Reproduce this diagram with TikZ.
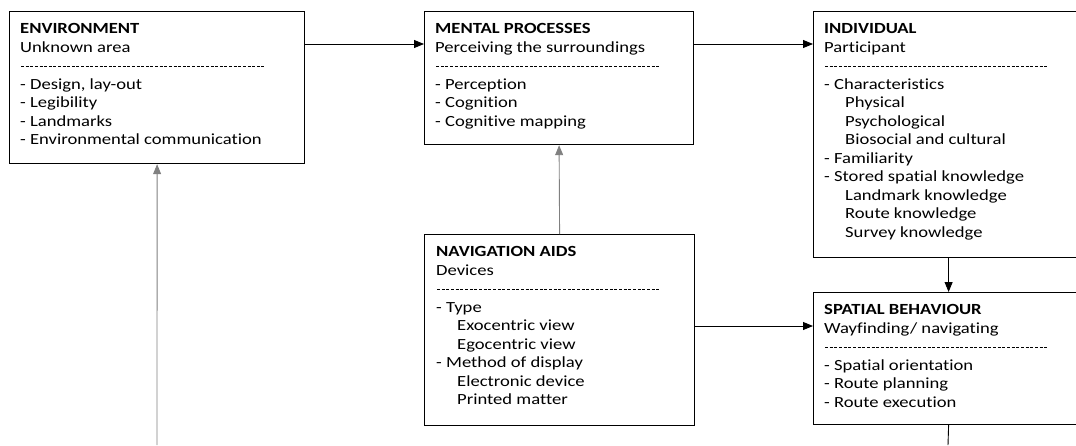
\documentclass[tikz,border=0pt]{standalone}
\usepackage{fontspec}
\setmainfont{Carlito}[FakeStretch=1.2, Ligatures=NoCommon]
\usetikzlibrary{arrows.meta}

% a row of hyphens used as the separator under each heading
\newcommand\dashrow[1]{\leavevmode\hbox to #1{\xleaders\hbox to 4.6pt{\hss\rule[4pt]{3pt}{0.7pt}\hss}\hfill}}
\newcommand\indentitem{\hspace*{21pt}}

\tikzset{
  panel/.style={draw=black, line width=1.2pt, fill=white, inner sep=0pt, anchor=north west},
  body/.style={anchor=base west, inner sep=0pt, text=black,
               font=\fontsize{15.5}{18.5}\selectfont},
  link/.style={line width=0.9pt, -{Triangle[length=10pt,width=8pt]}},
  faint/.style={link, draw=black!50},
}

\begin{document}
\begin{tikzpicture}[x=1pt,y=-1pt]
\useasboundingbox (0,0) rectangle (1076,445);
\begin{scope}
\clip (0,0) rectangle (1076,445);

% panels
\node[panel, minimum width=295pt, minimum height=152pt] (env)     at (9,11)   {};
\node[panel, minimum width=269pt, minimum height=133pt] (mental)  at (424,11) {};
\node[panel, minimum width=270pt, minimum height=246pt] (indiv)   at (813,11) {};
\node[panel, minimum width=270pt, minimum height=191pt] (nav)     at (424,234) {};
\node[panel, minimum width=270pt, minimum height=132pt] (spatial) at (813,292) {};

% panel contents
\node[body] (envtext) at (20,33.5) {\parbox[t]{280pt}{\raggedright
  \textbf{ENVIRONMENT}\\Unknown area\\\dashrow{245pt}\\
  - Design, lay-out\\- Legibility\\- Landmarks\\- Environmental communication}};

\node[body] (mentaltext) at (435,33.5) {\parbox[t]{250pt}{\raggedright
  \textbf{MENTAL PROCESSES}\\Perceiving the surroundings\\\dashrow{225pt}\\
  - Perception\\- Cognition\\- Cognitive mapping}};

\node[body] (indivtext) at (824,33.5) {\parbox[t]{250pt}{\raggedright
  \textbf{INDIVIDUAL}\\Participant\\\dashrow{224pt}\\
  - Characteristics\\\indentitem Physical\\\indentitem Psychological\\\indentitem Biosocial and cultural\\
  - Familiarity\\- Stored spatial knowledge\\\indentitem Landmark knowledge\\
  \indentitem Route knowledge\\\indentitem Survey knowledge}};

\node[body] (navtext) at (436,256.5) {\parbox[t]{250pt}{\raggedright
  \textbf{NAVIGATION AIDS}\\Devices\\\dashrow{224pt}\\
  - Type\\\indentitem Exocentric view\\\indentitem Egocentric view\\
  - Method of display\\\indentitem Electronic device\\\indentitem Printed matter}};

\node[body] (spatialtext) at (824,314.5) {\parbox[t]{250pt}{\raggedright
  \textbf{SPATIAL BEHAVIOUR}\\Wayfinding/ navigating\\\dashrow{224pt}\\
  - Spatial orientation\\- Route planning\\- Route execution}};

% connectors
\draw[link] ([yshift=-33pt]env.north east) -- ([yshift=-33pt]mental.north west);
\draw[link] ([yshift=-33pt]mental.north east) -- ([yshift=-33pt]indiv.north west);
\draw[link] (indiv.south) -- (spatial.north);
\draw[faint] (nav.north) -- (mental.south);
\coordinate (navout) at ([yshift=-92pt]nav.north east);
\draw[link] (navout) -- (spatial.west |- navout);
\coordinate (envfoot) at (157,445);
\draw[faint] (envfoot) -- (env.south);
\coordinate (spatfoot) at (948,445);
\draw[line width=0.9pt] (spatial.south) -- (spatfoot);
\end{scope}
\end{tikzpicture}
\end{document}
